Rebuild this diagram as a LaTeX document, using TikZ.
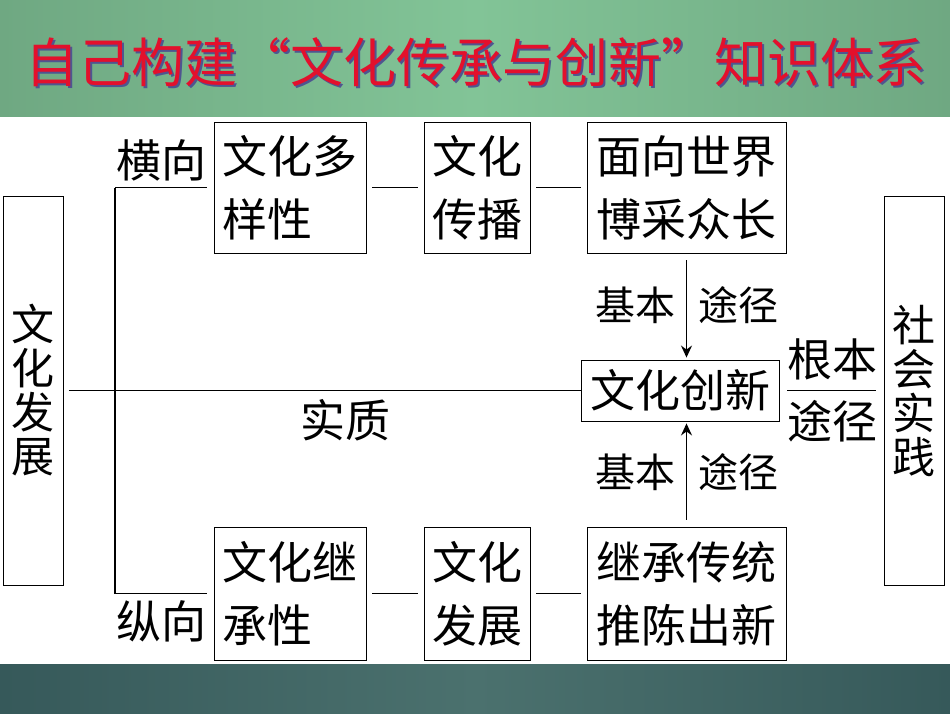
\documentclass[tikz,border=0pt]{standalone}
\usepackage{fontspec}
\newfontfamily\cjk{Noto Sans CJK SC}
\usepackage{xcolor}
\usetikzlibrary{positioning, arrows.meta}

\definecolor{bannerEdge}{HTML}{6FA882}
\definecolor{bannerMid}{HTML}{82C497}
\definecolor{footEdge}{HTML}{36595A}
\definecolor{footMid}{HTML}{4B716E}
\definecolor{titleRed}{HTML}{E3102C}
\definecolor{titleShade}{HTML}{4F5590}

\begin{document}
\begin{tikzpicture}[
  x=1pt, y=-1pt,
  box/.style={draw, line width=0.9pt, inner sep=0pt, align=left,
              font=\cjk\fontsize{45}{63}\selectfont},
  side/.style={box, minimum width=60pt, minimum height=389pt, align=center,
               font=\cjk\fontsize{43}{44}\selectfont},
  lbl/.style={inner sep=0pt, font=\cjk\fontsize{40}{48}\selectfont},
  biglbl/.style={lbl, font=\cjk\fontsize{45}{48}\selectfont},
  ttl/.style={font=\cjk\fontsize{53}{53}\selectfont},
  ln/.style={line width=1.6pt},
  arr/.style={ln, -{Stealth[length=12pt, width=11pt, inset=4pt]}},
]
\useasboundingbox (0,0) rectangle (950,713);
% banner and footer
\shade[left color=bannerEdge, right color=bannerEdge, middle color=bannerMid] (0,0) rectangle (950,116);
\shade[left color=footEdge, right color=footEdge, middle color=footMid] (0,664) rectangle (950,713);

\node[ttl, text=titleShade] at (478,64) {自己构建“文化传承与创新”知识体系};
\node[ttl, text=titleRed] (title) at (476,62) {自己构建“文化传承与创新”知识体系};

% side boxes
\node[side] (fz) at (33.5,390.5) {文\\化\\发\\展};
\node[side] (sj) at (914,390.5) {社\\会\\实\\践};

% upper row
\node[box, minimum width=152pt, minimum height=131pt] (dyx) at (290,187.5) {文化多\\样性};
\node[box, minimum width=106pt, minimum height=131pt] (cb) at (477,187.5) {文化\\传播};
\node[box, minimum width=199pt, minimum height=131pt] (mx) at (686.5,187.5) {面向世界\\博采众长};

% lower row
\node[box, minimum width=152pt, minimum height=133pt] (jcx) at (290,593.5) {文化继\\承性};
\node[box, minimum width=106pt, minimum height=133pt] (fzb) at (477,593.5) {文化\\发展};
\node[box, minimum width=199pt, minimum height=133pt] (jc) at (686.5,593.5) {继承传统\\推陈出新};

% centre
\node[box, minimum width=198pt, minimum height=61pt] (cx) at (680,390.5) {文化创新};

% labels
\node[biglbl] (hx) at (161,160) {横向};
\node[biglbl] (zx) at (161,621) {纵向};
\node[biglbl] (sz) at (345,420) {实质};
\node[lbl] (jb1) at (635,305) {基本};
\node[lbl] (tj1) at (738,305) {途径};
\node[lbl] (jb2) at (635,472) {基本};
\node[lbl] (tj2) at (738,472) {途径};
\node[biglbl] (gb) at (832,359) {根本};
\node[biglbl] (tj3) at (832,421) {途径};

% tree on the left
\coordinate (j) at (115,390.5);
\coordinate (jt) at (115,187.5);
\coordinate (jb) at (115,593.5);
\draw[ln, shorten <=5pt] (fz.east) -- (j);
\draw[ln] (jt) -- (jb);
\draw[ln] (j) -- (cx.west);
\draw[ln, shorten >=7pt] (jt) -- (dyx.west);
\draw[ln, shorten >=7pt] (jb) -- (jcx.west);

% dashes between boxes
\draw[ln, shorten <=6pt, shorten >=6pt] (dyx) -- (cb);
\draw[ln, shorten <=6pt, shorten >=6pt] (cb) -- (mx);
\draw[ln, shorten <=6pt, shorten >=6pt] (jcx) -- (fzb);
\draw[ln, shorten <=6pt, shorten >=6pt] (fzb) -- (jc);

% arrows into the centre
\draw[arr, shorten <=7pt, shorten >=2pt] (mx.south) -- (mx.south |- cx.north);
\draw[arr, shorten <=7pt, shorten >=2pt] (jc.north) -- (jc.north |- cx.south);

% fraction line to the right box
\draw[ln, shorten <=8pt, shorten >=8pt] (cx.east) -- (sj.west |- cx.east);
\end{tikzpicture}
\end{document}
